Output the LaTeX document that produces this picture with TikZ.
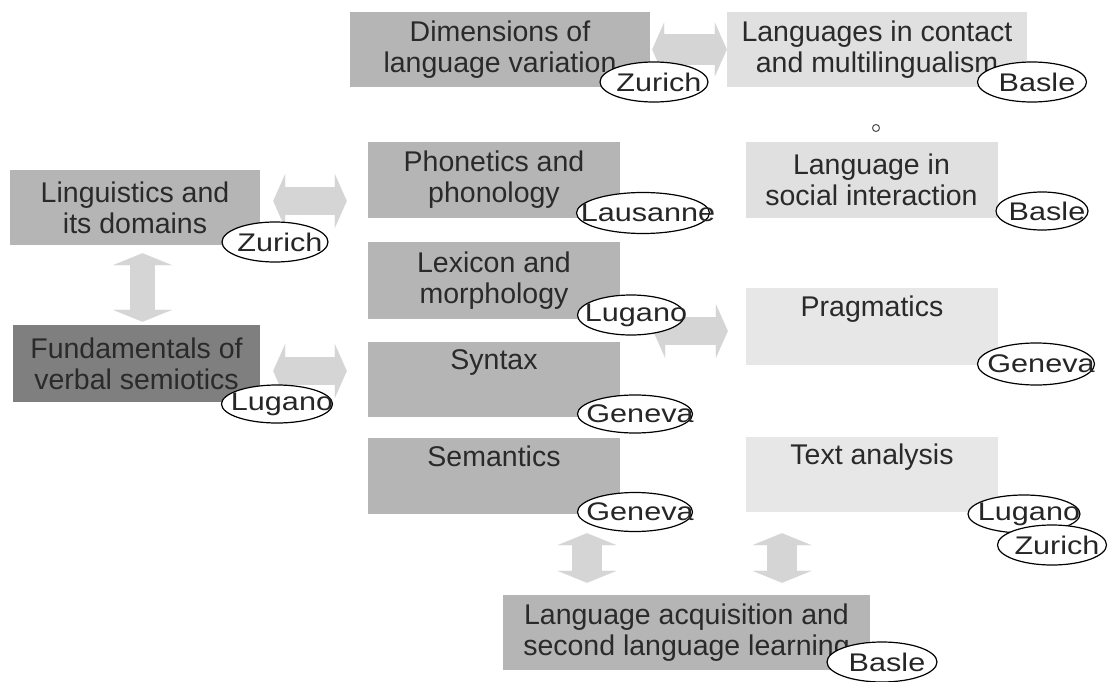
\documentclass[tikz,border=0pt]{standalone}
\usepackage{fontspec}
\setmainfont{Liberation Sans}
\newfontfamily\cityfont[FakeStretch=1.2]{Liberation Sans}
\usetikzlibrary{arrows.meta, shapes.geometric}

\definecolor{midbox}{HTML}{B5B5B5}
\definecolor{darkbox}{HTML}{7F7F7F}
\definecolor{palebox}{HTML}{E0E0E0}
\definecolor{faintbox}{HTML}{E7E7E7}
\definecolor{arrowgray}{HTML}{D5D5D5}
\definecolor{ink}{HTML}{2A2A2A}

\newcommand{\town}[1]{\makebox[0pt]{\hspace{10pt}#1}}

\begin{document}
\begin{tikzpicture}[
            x = 1pt, y = -1pt, % one unit per pixel of the scan
            font = \fontsize{28.5}{31}\selectfont,
            text = ink
        ]

        \tikzstyle{area}=[
            rectangle,
            inner sep = 0pt,
            align = center,
            minimum width = 252pt,
            minimum height = 76pt
        ]
        \tikzstyle{city}=[
            ellipse,
            draw = black,
            line width = 1.2pt,
            fill = white,
            inner sep = 0pt,
            minimum width = 108pt,
            minimum height = 40pt,
            text = black!85,
            font = \cityfont\fontsize{25.5}{28}\selectfont
        ]
        \tikzstyle{broad}=[
            draw = arrowgray,
            line width = 28pt,
            arrows = {Triangle[length=12pt,width=54pt,line width=0.1pt]-Triangle[length=12pt,width=54pt,line width=0.1pt]}
        ]
        \tikzstyle{tall}=[
            broad,
            arrows = {Triangle[length=12pt,width=59pt,line width=0.1pt]-Triangle[length=12pt,width=59pt,line width=0.1pt]}
        ]

        \useasboundingbox (0,0) rectangle (1109,682);

        % subject areas
        \node[area, fill=midbox,  minimum width=250pt, minimum height=75pt] (ling)    at ( 135   , 207.5 ) {Linguistics and\\its domains};
        \node[area, fill=darkbox, minimum width=247pt, minimum height=77pt] (fund)    at ( 136.5 , 363.5 ) {Fundamentals of\\verbal semiotics};
        \node[area, fill=midbox,  minimum width=300pt, minimum height=75pt] (dim)     at ( 500   ,  49.5 ) {Dimensions of\\language variation};
        \node[area, fill=palebox, minimum width=300pt, minimum height=75pt] (contact) at ( 877   ,  49.5 ) {Languages in contact\\and multilingualism};
        \node[area, fill=midbox]                                            (phon)    at ( 494   , 180   ) {Phonetics and\\phonology};
        \node[area, fill=palebox]                                           (social)  at ( 871.5 , 180   ) {Language in\\social interaction};
        \node[area, fill=midbox,  minimum height=77pt]                      (lex)     at ( 494   , 280.5 ) {Lexicon and\\morphology};
        \node[area, fill=midbox,  minimum height=75pt]                      (syn)     at ( 494   , 379.5 ) {Syntax\\\strut};
        \node[area, fill=midbox]                                            (sem)     at ( 494   , 476   ) {Semantics\\\strut};
        \node[area, fill=faintbox, minimum height=77pt]                     (prag)    at ( 872   , 326.5 ) {Pragmatics\\\strut};
        \node[area, fill=faintbox, minimum height=75pt]                     (text)    at ( 872   , 474.5 ) {Text analysis\\\strut};
        \node[area, fill=midbox,  minimum width=367pt, minimum height=75pt] (acq)     at ( 686.5 , 632.5 ) {Language acquisition and\\second language learning};

        % links between areas
        \draw[broad] ([xshift=13pt,yshift=6.5pt]ling.east)  -- ([xshift=-21pt,yshift=-21pt]phon.west);
        \draw[broad] ([xshift=13pt,yshift=-7.5pt]fund.east) -- ([xshift=-21pt,yshift=8.5pt]syn.west);
        \draw[tall,  line width=25pt] ([xshift=7.5pt,yshift=-8pt]ling.south) -- ([xshift=6pt,yshift=3pt]fund.north);
        \draw[broad, line width=31pt] ([xshift=2pt]dim.east) -- (contact.west);
        \draw[broad] ([xshift=33pt,yshift=-50.5pt]lex.east) -- ([xshift=-18pt,yshift=-4.5pt]prag.west);
        \draw[tall,  line width=30pt] ([xshift=93pt,yshift=-19pt]sem.south)  -- ([xshift=-99.5pt,yshift=12pt]acq.north);
        \draw[tall,  line width=30pt] ([xshift=-90pt,yshift=-21pt]text.south) -- ([xshift=95.5pt,yshift=12pt]acq.north);

        % universities
        \node[city, minimum width=106pt]                     (zu1) at (  275 , 242 ) {\town{Zurich}};
        \node[city, minimum width=111pt, minimum height=38pt] (lu1) at (  277 , 404 ) {\town{Lugano}};
        \node[city]                                          (zu2) at (  654 ,  82 ) {\town{Zurich}};
        \node[city, minimum width=109pt]                     (ba1) at ( 1032 ,  82 ) {\town{Basle}};
        \node[city, minimum width=133pt, minimum height=41pt] (lau) at (  643 , 213 ) {\town{Lausanne}};
        \node[city, minimum width=92pt,  minimum height=38pt] (ba2) at ( 1042 , 211 ) {\town{Basle}};
        \node[city, minimum width=107pt]                     (lu2) at (  631 , 315 ) {\town{Lugano}};
        \node[city, minimum width=115pt, minimum height=38pt] (ge1) at (  635 , 414 ) {\town{Geneva}};
        \node[city, minimum width=115pt, minimum height=39pt] (ge2) at (  635 , 512 ) {\town{Geneva}};
        \node[city, minimum width=117pt, minimum height=42pt] (ge3) at ( 1036 , 364 ) {\town{Geneva}};
        \node[city, minimum width=112pt, minimum height=38pt] (lu3) at ( 1024 , 514 ) {\town{Lugano}};
        \node[city, minimum width=109pt]                     (zu3) at ( 1052 , 545 ) {\town{Zurich}};
        \node[city, minimum width=110pt]                     (ba3) at (  882 , 662 ) {\town{Basle}};

        \node[circle, draw=black!70, line width=1pt, minimum size=7pt, inner sep=0pt] (speck) at ( 876 , 128 ) {};

    \end{tikzpicture}
\end{document}
